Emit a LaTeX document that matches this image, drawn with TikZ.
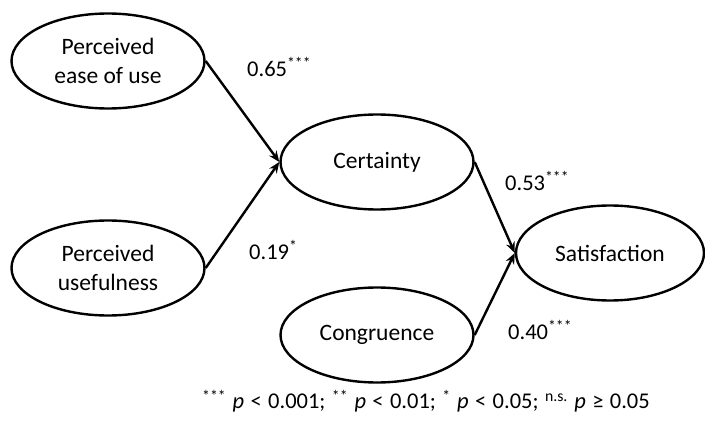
\documentclass[tikz,border=0pt]{standalone}
\usepackage{fontspec}
\setmainfont{Carlito}
\usetikzlibrary{shapes.geometric,arrows.meta}
\begin{document}
\begin{tikzpicture}[x=1pt,y=-1pt,
  latent/.style={draw,ellipse,line width=2.4pt,minimum width=193pt,minimum height=95pt,inner sep=0pt,align=center,font=\fontsize{23.5}{29}\selectfont},
  path/.style={line width=2.4pt,-{Stealth[length=11pt,width=9pt]}},
  coef/.style={font=\fontsize{22.5}{27}\selectfont,inner sep=0pt}]
\useasboundingbox (0,0) rectangle (705,425);
\node[latent] (peou) at (108,61) {Perceived\\ease of use};
\node[latent] (pu) at (108,268) {Perceived\\usefulness};
\node[latent] (cert) at (377,162) {Certainty};
\node[latent] (cong) at (377,335) {Congruence};
\node[latent,minimum width=188pt] (sat) at (610,253) {Satisfaction};
\draw[path] (peou.east) -- (cert.west);
\draw[path] (pu.east) -- (cert.west);
\draw[path] (cert.east) -- (sat.west);
\draw[path] (cong.east) -- (sat.west);
\node[coef,anchor=west] (c1) at (247,67) {0.65\textsuperscript{***}};
\node[coef,anchor=west] (c2) at (249,250) {0.19\textsuperscript{*}};
\node[coef,anchor=west] (c3) at (505,181) {0.53\textsuperscript{***}};
\node[coef,anchor=west] (c4) at (508,330) {0.40\textsuperscript{***}};
\node[coef,anchor=west] (note) at (202,401) {\spaceskip=6.4pt\relax\textsuperscript{***} \textit{p} < 0.001; \textsuperscript{**} \textit{p} < 0.01; \textsuperscript{*} \textit{p} < 0.05; \textsuperscript{n.s.} \textit{p} ≥ 0.05};
\end{tikzpicture}
\end{document}
